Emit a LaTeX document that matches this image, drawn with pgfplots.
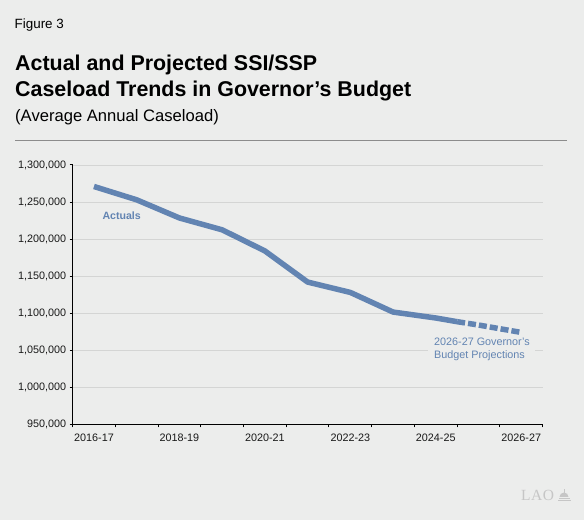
\documentclass[border=0pt]{standalone}
\usepackage{fontspec}
\setmainfont{Liberation Sans}
\newfontfamily\seriffont{Liberation Serif}
\usepackage{pgfplots}
\pgfplotsset{compat=1.18}
\definecolor{bg}{RGB}{236,237,236}
\definecolor{lineblue}{RGB}{98,132,178}
\definecolor{gridgray}{RGB}{212,213,212}
\definecolor{rulegray}{RGB}{140,140,140}
\definecolor{logogray}{RGB}{198,198,198}
\definecolor{ticktext}{RGB}{25,25,25}

\begin{document}
\begin{tikzpicture}[x=1bp,y=1bp]
\fill[bg] (0,0) rectangle (584,520);
% header
\node[anchor=base west, inner sep=0, font=\fontsize{13.4bp}{16bp}\selectfont] at (14.5,491.7) {Figure 3};
\node[anchor=base west, inner sep=0, font=\bfseries\fontsize{21.4bp}{26bp}\selectfont] at (15,449.3) {Actual and Projected SSI/SSP};
\node[anchor=base west, inner sep=0, font=\bfseries\fontsize{21.4bp}{26bp}\selectfont] at (15,423.3) {Caseload Trends in Governor’s Budget};
\node[anchor=base west, inner sep=0, font=\fontsize{16.6bp}{20bp}\selectfont] at (15,398.3) {(Average Annual Caseload)};
\draw[rulegray, line width=1bp] (15,379) -- (567,379);

\begin{axis}[
  at={(72.6bp,95.7bp)}, anchor=south west,
  scale only axis, width=470bp, height=259.3bp,
  xmin=-0.5, xmax=10.5, ymin=950000, ymax=1300000,
  axis x line=bottom, axis y line=left,
  axis line style={-, line width=1.1bp, black},
  xtick={-0.5,0.5,1.5,2.5,3.5,4.5,5.5,6.5,7.5,8.5,9.5,10.5},
  xticklabels={},
  extra x ticks={0,2,4,6,8,10},
  extra x tick labels={2016-17,2018-19,2020-21,2022-23,2024-25,2026-27},
  extra x tick style={major tick length=0pt, grid=none},
  ytick={950000,1000000,1050000,1100000,1150000,1200000,1250000,1300000},
  ymajorgrids, grid style={gridgray, line width=0.9bp},
  xtick align=outside, ytick align=outside,
  major tick length=3bp,
  tick style={black, line width=1bp},
  scaled y ticks=false,
  yticklabel style={/pgf/number format/.cd, fixed, 1000 sep={,}, assume math mode=true},
  ticklabel style={font=\fontsize{10.8bp}{13bp}\selectfont, text=ticktext},
  xticklabel style={yshift=-6.5bp},
  clip=false,
]
\addplot[lineblue, line width=5.5bp, line join=round, mark=none] coordinates {
  (0,1271000) (1,1253000) (2,1228500) (3,1212500) (4,1184000)
  (5,1142000) (6,1128000) (7,1101500) (8,1093500) (8.5,1088500)
};
\addplot[lineblue, line width=5.5bp, dash pattern=on 8bp off 3bp, mark=none] coordinates {
  (8.5,1088500) (9,1084000) (10,1074000)
};
\end{axis}

% annotations
\node[anchor=base west, inner sep=0, text=lineblue, font=\bfseries\fontsize{10.6bp}{12bp}\selectfont] at (102.3,300.7) {Actuals};
\fill[bg] (428.3,157.5) rectangle (535,182);
\node[anchor=base west, inner sep=0, text=lineblue, font=\fontsize{10.8bp}{12bp}\selectfont] at (434,174) {2026-27 Governor's};
\node[anchor=base west, inner sep=0, text=lineblue, font=\fontsize{10.8bp}{12bp}\selectfont] at (434,161.7) {Budget Projections};

% logo
\node[anchor=base west, inner sep=0, text=logogray, font=\seriffont\fontsize{15.5bp}{16bp}\selectfont] at (521,19) {L\kern0.5bp A\kern0.5bp O};
\fill[logogray] (557.5,19) rectangle (570.5,20.2);
\fill[logogray] (558.5,21.2) rectangle (569.5,22.2);
\fill[logogray] (559.5,23) arc (180:0:4.5) -- cycle;
\fill[logogray] (563.6,27.4) rectangle (564.4,30.5);
\end{tikzpicture}
\end{document}
